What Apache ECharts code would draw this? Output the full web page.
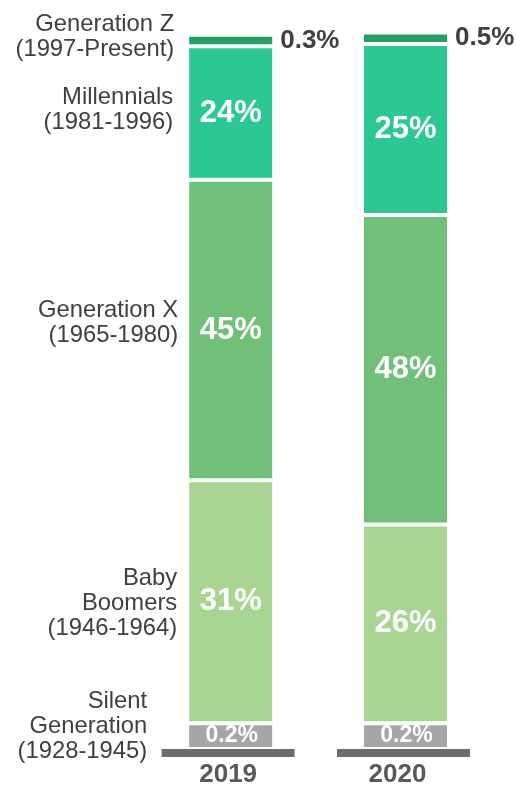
<!DOCTYPE html>
<html><head><meta charset="utf-8">
<script src="https://cdn.jsdelivr.net/npm/echarts@6/dist/echarts.min.js"></script>
<style>html,body{margin:0;padding:0;background:#fff}#c{width:516px;height:785px}</style>
</head><body><div id="c"></div>
<script>
// Data (bottom to top)
var years = ['2019', '2020'];
var generations = ['Silent\nGeneration\n(1928-1945)', 'Baby\nBoomers\n(1946-1964)', 'Generation X\n(1965-1980)', 'Millennials\n(1981-1996)', 'Generation Z\n(1997-Present)'];
// segment sizes as drawn in the picture (share of the bar)
var silent = [3.6, 3.6];
var boomers = [34.0, 27.8];
var genX = [42.0, 43.3];
var millennials = [18.7, 23.9];
var genZ = [1.6, 1.6];
// printed labels
var silentLabels = ['0.2%', '0.2%'];
var boomersLabels = ['31%', '26%'];
var genXLabels = ['45%', '48%'];
var millennialsLabels = ['24%', '25%'];
var genZLabels = ['0.3%', '0.5%'];

var colors = ['#a6a6a6', '#a9d592', '#70c07a', '#2bc991', '#22a065'];
var values = [silent, boomers, genX, millennials, genZ];
var labels = [silentLabels, boomersLabels, genXLabels, millennialsLabels, genZLabels];
var font = 'Liberation Sans, Arial, sans-serif';

var series = [];
values.forEach(function (v, i) {
  var isZ = i === 4, isSilent = i === 0;
  series.push({
    type: 'bar', stack: 'main', barWidth: 87, barGap: '-100%',
    data: v,
    itemStyle: { color: colors[i], borderColor: '#ffffff', borderWidth: 2 },
    label: {
      show: true,
      position: isZ ? 'right' : 'inside',
      distance: 6,
      offset: isSilent ? [1, 0] : [0, 0],
      color: isZ ? '#404040' : '#ffffff',
      fontFamily: font, fontWeight: 'bold',
      fontSize: isZ ? 26 : (isSilent ? 23 : 31),
      formatter: (function (lab) { return function (p) { return lab[p.dataIndex]; }; })(labels[i])
    },
    silent: true
  });
});
// name labels (left of the 2019 bar)
var nameDist = [40, 10, 9, 14, 13];
var nameOff = [-10, 2, -7, -3.5, -4];
values.forEach(function (v, i) {
  series.push({
    type: 'bar', stack: 'names', barWidth: 87, barGap: '-100%',
    data: [v[0], '-'],
    itemStyle: { color: 'rgba(0,0,0,0)' },
    label: {
      show: true, position: 'left', distance: nameDist[i], offset: [0, nameOff[i]],
      color: '#404040', fontFamily: font, fontSize: 23.8, lineHeight: 25, align: 'right',
      formatter: generations[i]
    },
    silent: true
  });
});
// baseline
series.push({
  type: 'bar', xAxisIndex: 1, yAxisIndex: 1, barWidth: 133,
  data: [1, 1], itemStyle: { color: '#6d6d71' }, silent: true
});

var chart = echarts.init(document.getElementById('c'));
chart.setOption({
  animation: false,
  grid: [
    { left: 143.3, width: 349.6, top: 19.7, bottom: 36, outerBoundsMode: 'none', containLabel: false },
    { left: 140.5, width: 350.6, top: 749, bottom: 28, outerBoundsMode: 'none', containLabel: false }
  ],
  xAxis: [
    { type: 'category', gridIndex: 0, data: years, show: false },
    { type: 'category', gridIndex: 1, data: [{ value: '2019' }, { value: '2020', textStyle: { padding: [0, 12, 0, 0] } }],
      axisLine: { show: false }, axisTick: { show: false },
      axisLabel: { margin: 5, color: '#595959', fontFamily: font, fontWeight: 'bold', fontSize: 26 } }
  ],
  yAxis: [
    { type: 'value', gridIndex: 0, min: 0, max: 102, show: false },
    { type: 'value', gridIndex: 1, min: 0, max: 1, show: false }
  ],
  series: series
});
</script></body></html>
